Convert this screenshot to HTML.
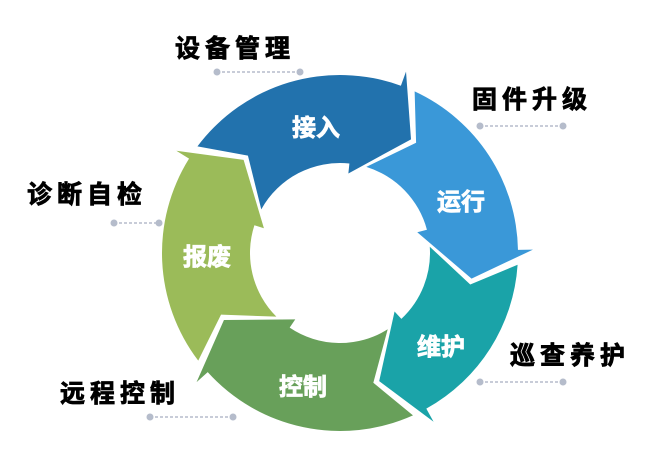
<!DOCTYPE html>
<html><head><meta charset="utf-8">
<style>
html,body{margin:0;padding:0;background:#fff;}
body{width:660px;height:459px;overflow:hidden;position:relative;}
svg{position:absolute;left:0;top:0;}
</style></head>
<body>
<svg id="s" width="660" height="459" viewBox="0 0 660 459" xmlns="http://www.w3.org/2000/svg">
<g id="arrows"></g>
<g font-family="Liberation Sans, Noto Sans CJK SC, sans-serif" font-weight="bold">
<g fill="#fff" stroke="#fff" stroke-width="0.8" font-size="24" text-anchor="middle">
<text x="316" y="136">接入</text>
<text x="461" y="210">运行</text>
<text x="441" y="355">维护</text>
<text x="303" y="395">控制</text>
<text x="207" y="265">报废</text>
</g>
<g fill="#000" stroke="#000" stroke-width="0.8" font-size="25" letter-spacing="5">
<text x="175" y="57">设备管理</text>
<text x="472" y="108">固件升级</text>
<text x="27" y="203">诊断自检</text>
<text x="510" y="364">巡查养护</text>
<text x="60" y="402">远程控制</text>
</g>
</g>
<g stroke="#b5bccb" stroke-width="1.5" stroke-dasharray="3,2" fill="none">
<line x1="217" y1="72" x2="300" y2="72"/>
<line x1="480" y1="126" x2="563" y2="126"/>
<line x1="114" y1="223" x2="159" y2="223"/>
<line x1="480" y1="382" x2="563" y2="382"/>
<line x1="150" y1="417" x2="233" y2="417"/>
</g>
<g fill="#b5bccb">
<circle cx="217" cy="72" r="3.5"/><circle cx="300" cy="72" r="3.5"/>
<circle cx="480" cy="126" r="3.5"/><circle cx="563" cy="126" r="3.5"/>
<circle cx="114" cy="223" r="3.5"/><circle cx="159" cy="223" r="3.5"/>
<circle cx="480" cy="382" r="3.5"/><circle cx="563" cy="382" r="3.5"/>
<circle cx="150" cy="417" r="3.5"/><circle cx="233" cy="417" r="3.5"/>
</g>
</svg>
<script>
(function(){
var cx=340,cy=253,R=178,r=90,M=134,Ro=193,Ri=80,g=2.6;
var tips=[32,101,163,240,314];
var cols=["#2272ad","#3a98d8","#1aa3a8","#68a05a","#9bbb59"];
function pt(a,rad){var t=a*Math.PI/180;return [cx+rad*Math.sin(t),cy-rad*Math.cos(t)];}
function inter(A,B,rad){
 var dx=B[0]-A[0],dy=B[1]-A[1],fx=A[0]-cx,fy=A[1]-cy;
 var a=dx*dx+dy*dy,b=2*(fx*dx+fy*dy),c=fx*fx+fy*fy-rad*rad;
 var d=Math.sqrt(Math.max(0,b*b-4*a*c));
 var t1=(-b-d)/(2*a),t2=(-b+d)/(2*a);
 var t=(t1>=0&&t1<=1)?t1:t2;
 return [A[0]+t*dx,A[1]+t*dy];}
function f(p){return p[0].toFixed(2)+","+p[1].toFixed(2);}
var html="";
for(var i=0;i<5;i++){
 var H=tips[i],Hp=tips[(i+4)%5];if(Hp>H)Hp-=360;
 var O=pt(H-12,Ro),P=pt(H,M),I=pt(H-26,Ri),So=pt(H-12,R),Si=pt(H-26,r);
 var O2=pt(Hp-12+g,Ro),P2=pt(Hp+g,M),I2=pt(Hp-26+g,Ri);
 var Q=inter(O2,P2,R),Q2=inter(P2,I2,r);
 var d="M"+f(Q)+" A"+R+" "+R+" 0 0 1 "+f(So)+" L"+f(O)+" L"+f(P)+" L"+f(I)+" L"+f(Si)+
  " A"+r+" "+r+" 0 0 0 "+f(Q2)+" L"+f(P2)+" Z";
 html+='<path d="'+d+'" fill="'+cols[i]+'"/>';
}
document.getElementById("arrows").innerHTML=html;
})();
</script>
</body></html>
